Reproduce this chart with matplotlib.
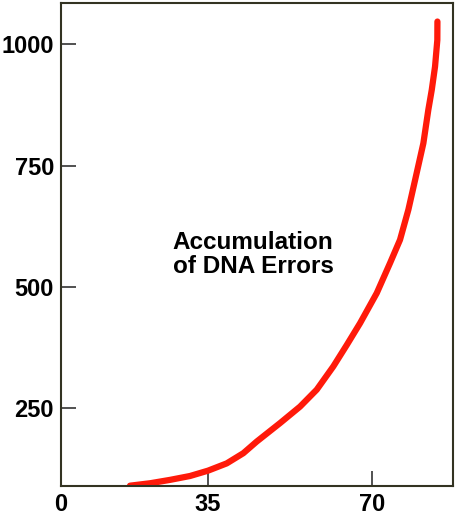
import matplotlib
matplotlib.use('Agg')
import matplotlib.pyplot as plt

# curve (age vs. accumulated errors)
age = [18.35, 22.62, 26.89, 31.16, 35.0, 38.99, 42.53, 45.39, 50.36, 54.63,
       58.20, 61.74, 64.60, 67.44, 71.00, 73.84, 75.97, 77.75, 79.18, 80.95,
       82.01, 82.74, 83.44, 83.93, 83.95]
errors = [90, 95, 102, 110, 121, 136, 157, 181, 219, 253,
          288, 336, 380, 425, 487, 549, 597, 659, 720, 796,
          865, 906, 954, 1009, 1047]

x_min, x_max = 3.6, 87.3
y_min, y_max = 89.6, 1085
x_ticks = [x_min, 35, 70]
x_labels = ['0', '35', '70']
y_ticks = [250, 500, 750, 1000]

plt.rcParams['font.family'] = ['Liberation Sans', 'DejaVu Sans']

fig = plt.figure(figsize=(4.72, 5.18), dpi=100)
ax = fig.add_axes([0.129, 0.062, 0.831, 0.932])

ax.plot(age, errors, color='#ff1a0a', lw=4.5, solid_capstyle='round')

ax.set_xlim(x_min, x_max)
ax.set_ylim(y_min, y_max)
ax.set_xticks(x_ticks)
ax.set_xticklabels(x_labels)
ax.set_yticks(y_ticks)
ax.set_yticklabels([str(v) for v in y_ticks])

ax.tick_params(direction='in', length=11, width=1.2, color='#333333',
               labelsize=17, pad=5)
for lab in ax.get_xticklabels() + ax.get_yticklabels():
    lab.set_fontweight('bold')
# no tick mark at the left edge for the "0" label
ax.xaxis.get_major_ticks()[0].tick1line.set_visible(False)

for s in ax.spines.values():
    s.set_color('#333322')
    s.set_linewidth(1.5)

ax.text(44.6, 566, 'Accumulation\nof DNA Errors', ha='center', va='center',
        fontsize=17.5, fontweight='bold', linespacing=1.05)

fig.savefig('out.png', dpi=100)
